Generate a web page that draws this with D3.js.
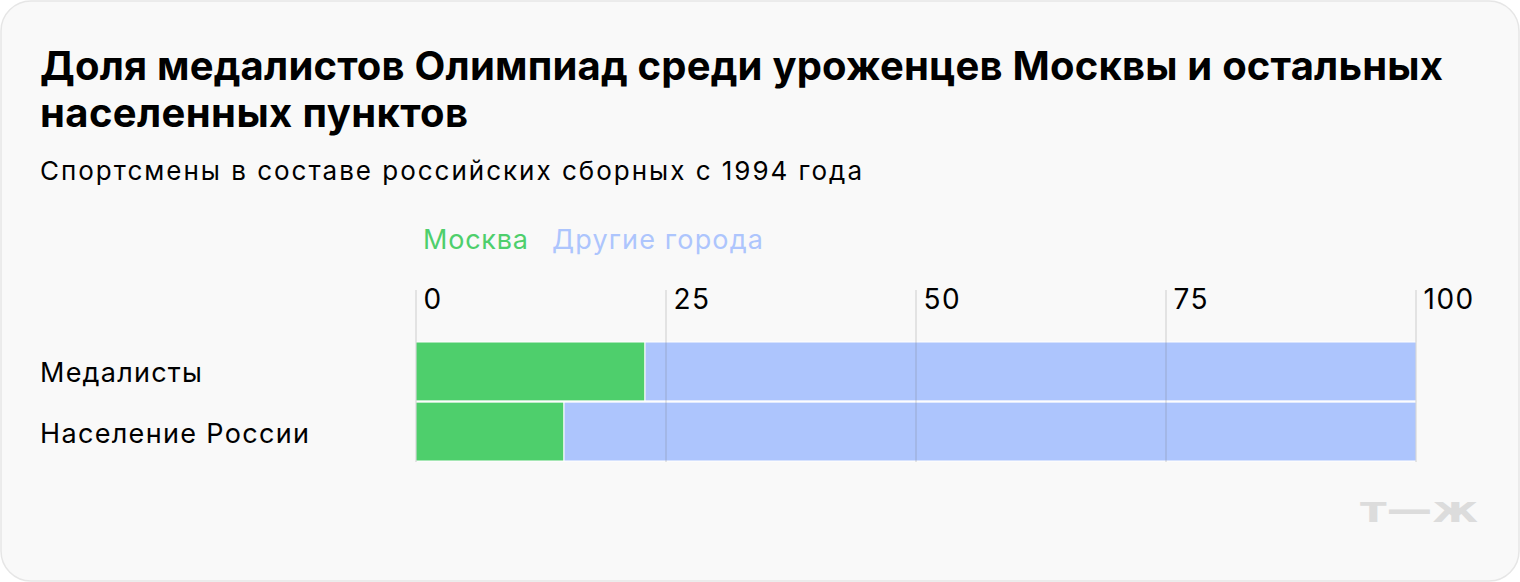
<!DOCTYPE html>
<html><head><meta charset="utf-8">
<script src="https://cdn.jsdelivr.net/npm/d3@7"></script>
<style>
html,body{margin:0;padding:0;background:#fff;}
svg{display:block;font-family:Inter, "Noto Sans", sans-serif;}
</style></head>
<body>
<script>
const categories = ["Медалисты", "Население России"];
const series = ["Москва", "Другие города"];
const moscow = [22.9, 14.8];
const others = [77.1, 85.2];
const ticks = [0, 25, 50, 75, 100];
const colors = ["#4ecf6c", "#adc5fd"];

const W = 1520, H = 582;
const svg = d3.select("body").append("svg").attr("width", W).attr("height", H);
svg.append("rect").attr("x",1).attr("y",1).attr("width",W-2).attr("height",H-2)
  .attr("rx",30).attr("fill","#f9f9f9").attr("stroke","#e6e6e6").attr("stroke-width",1.5);

function fit(sel, w){ sel.attr("textLength", w).attr("lengthAdjust","spacing"); return sel; }

fit(svg.append("text").attr("x",40).attr("y",80).attr("font-size",40).attr("font-weight",700).attr("fill","#000")
  .text("Доля медалистов Олимпиад среди уроженцев Москвы и остальных"), 1403);
fit(svg.append("text").attr("x",40).attr("y",127).attr("font-size",40).attr("font-weight",700).attr("fill","#000")
  .text("населенных пунктов"), 428);
fit(svg.append("text").attr("x",40).attr("y",180).attr("font-size",26).attr("fill","#000")
  .text("Спортсмены в составе российских сборных с 1994 года"), 822);

const x = d3.scaleLinear().domain([0,100]).range([416,1416]);
const y = d3.scaleBand().domain(categories).range([342,461]).paddingInner(0.02);

// legend
const legendX = [423, 552], legendW = [105, 211];
series.forEach((s,i)=>{
  fit(svg.append("text").attr("x",legendX[i]).attr("y",249).attr("font-size",27).attr("fill",colors[i]).text(s), legendW[i]);
});

// bars
const stack = categories.map((c,i)=>({cat:c, vals:[moscow[i], others[i]]}));
stack.forEach(d=>{
  let acc = 0;
  d.vals.forEach((v,j)=>{
    svg.append("rect").attr("x",x(acc)).attr("y",y(d.cat)).attr("width",x(acc+v)-x(acc)).attr("height",y.bandwidth())
      .attr("fill",colors[j]).attr("stroke","#fff").attr("stroke-width",1);
    acc += v;
  });
});

// grid
const g = svg.append("g");
ticks.forEach(t=>{
  g.append("line").attr("x1",x(t)).attr("x2",x(t)).attr("y1",290).attr("y2",462)
    .attr("stroke","rgba(120,120,120,0.22)").attr("stroke-width",1.5);
});
const ax = d3.axisTop(x).tickValues(ticks).tickSize(0).tickFormat(d3.format("d"));
const axg = svg.append("g").attr("transform","translate(0,312)").call(ax);
axg.select(".domain").remove();
axg.selectAll("text").attr("font-size",28).attr("fill","#000").attr("text-anchor","start")
  .attr("dx",7).attr("dy",0).attr("letter-spacing",1.5).attr("font-family","Inter, 'Noto Sans', sans-serif");

// category labels
const labelW = [162, 269];
categories.forEach((c,i)=>{
  fit(svg.append("text").attr("x",40).attr("y",y(c)+y.bandwidth()/2+11).attr("font-size",27).attr("fill","#000").text(c), labelW[i]);
});

// logo
svg.append("text").attr("x",1360).attr("y",522).attr("font-size",36)
  .attr("textLength",118).attr("lengthAdjust","spacingAndGlyphs")
  .attr("font-weight",900).attr("fill","#dcdcdc").attr("font-family","'DejaVu Sans', sans-serif").text("т—ж");
</script>
</body></html>
